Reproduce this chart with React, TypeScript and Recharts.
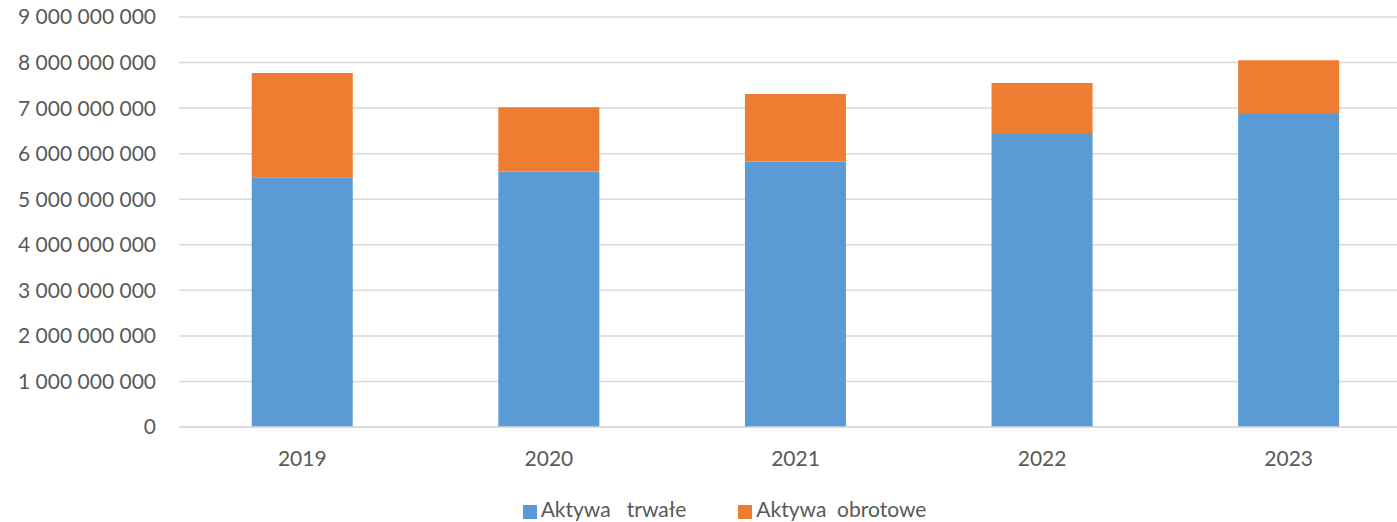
import { BarChart, Bar, XAxis, YAxis, CartesianGrid, Legend } from 'recharts';

const years = ['2019', '2020', '2021', '2022', '2023'];
const trwale = [5480000000, 5610000000, 5830000000, 6430000000, 6870000000];
const obrotowe = [2290000000, 1410000000, 1480000000, 1120000000, 1180000000];
const yTicks = [0, 1000000000, 2000000000, 3000000000, 4000000000, 5000000000, 6000000000, 7000000000, 8000000000, 9000000000];

const data = years.map((year, i) => ({
  year,
  trwale: trwale[i],
  obrotowe: obrotowe[i],
}));

const font = 'Lato, sans-serif';

const formatNum = (v: number) =>
  v === 0 ? '0' : String(v).replace(/\B(?=(\d{3})+(?!\d))/g, ' ');

const App = () => {
  return (
    <div style={{ position: 'absolute', left: 0, top: 0, fontFamily: font, overflow: 'hidden', width: 1397, height: 522 }}>
      <BarChart
        width={1412}
        height={522}
        data={data}
        margin={{ top: 17, right: 0, left: 0, bottom: 0 }}
        barCategoryGap="29.5%"
      >
        <CartesianGrid vertical={false} stroke="#d9d9d9" strokeWidth={1.5} />
        <XAxis
          dataKey="year"
          height={59}
          tickLine={false}
          axisLine={{ stroke: '#d9d9d9', strokeWidth: 1.5 }}
          tickMargin={18}
          tick={{ fill: '#595959', fontSize: 21, fontFamily: font }}
        />
        <YAxis
          width={179}
          domain={[0, 9000000000]}
          ticks={yTicks}
          tickFormatter={formatNum}
          axisLine={false}
          tickLine={false}
          tickSize={0}
          tickMargin={23}
          tick={{ fill: '#595959', fontSize: 21, fontFamily: font }}
        />
        <Legend
          verticalAlign="bottom"
          height={36}
          iconType="square"
          iconSize={14}
          wrapperStyle={{ fontSize: 21, color: '#595959', fontFamily: font, left: 52, width: 1397, top: 496 }}
          formatter={(value) => (
            <span style={{ color: '#595959', whiteSpace: 'pre', marginRight: 42 }}>{value}</span>
          )}
        />
        <Bar dataKey="trwale" name={'Aktywa   trwałe'} stackId="a" fill="#5B9BD5" isAnimationActive={false} />
        <Bar dataKey="obrotowe" name={'Aktywa  obrotowe'} stackId="a" fill="#ED7D31" isAnimationActive={false} />
      </BarChart>
    </div>
  );
};

export default App;
